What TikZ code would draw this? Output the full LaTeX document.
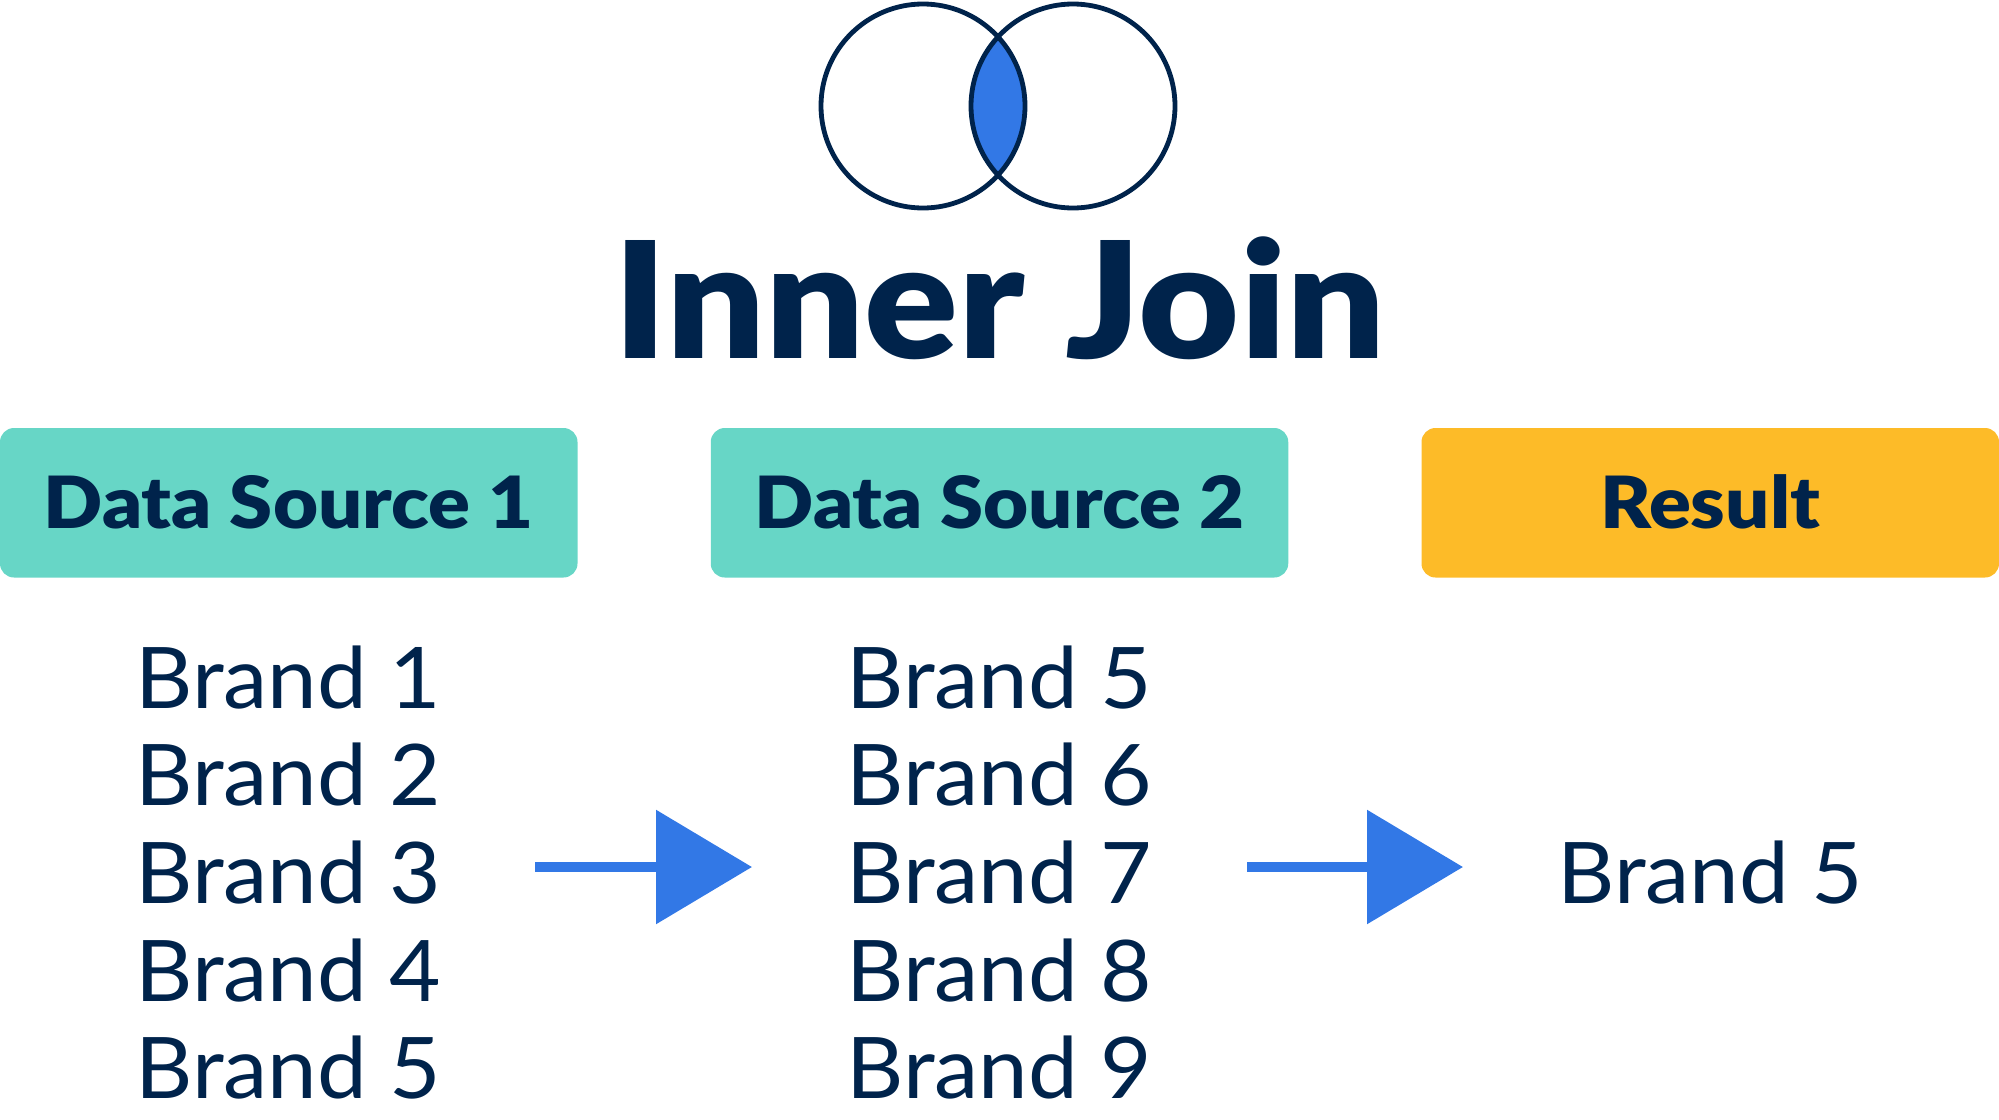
\documentclass[tikz,border=0pt]{standalone}
\usepackage{fontspec}
\setmainfont{Lato}[FakeStretch=1.045]
\newfontfamily\titlefont{Lato Black}[FakeStretch=1.076]
\newfontfamily\blackfont{Lato Black}[FakeStretch=1.08]
\usetikzlibrary{arrows.meta}
\definecolor{navy}{HTML}{00234B}
\definecolor{jblue}{HTML}{3278E6}
\definecolor{dsteal}{HTML}{67D6C6}
\definecolor{resyellow}{HTML}{FDBB28}
\begin{document}
\begin{tikzpicture}[x=0.5pt,y=-0.5pt,
  hdrbox/.style={rectangle, rounded corners=7pt, draw=none, minimum width=288.75pt, minimum height=74.75pt,
    inner sep=0pt, text=navy, font=\blackfont\fontsize{36}{40}\selectfont, text height=26pt, text depth=0pt},
  brandtxt/.style={anchor=base, inner sep=0pt, text=navy, font=\fontsize{42.5}{48}\selectfont},
  joinarrow/.style={draw=jblue, line width=5pt, -{Triangle[length=48pt,width=56pt]}},
  venn/.style={draw=navy, line width=2.4pt}]
\useasboundingbox (0,0) rectangle (1999,1120);
% Venn diagram
\coordinate (vl) at (923,106);
\coordinate (vr) at (1073,106);
\begin{scope}
  \clip (vl) circle[radius=51pt];
  \fill[jblue] (vr) circle[radius=51pt];
\end{scope}
\draw[venn] (vl) circle[radius=51pt];
\draw[venn] (vr) circle[radius=51pt];
% title
\node[anchor=base, inner sep=0pt, text=navy, font=\titlefont\fontsize{81}{90}\selectfont] (title) at (999.5,358) {Inner Join};
% header boxes
\node[hdrbox, fill=dsteal] (ds1) at (288.75,502.75) {Data Source 1};
\node[hdrbox, fill=dsteal] (ds2) at (999.5,502.75) {Data Source 2};
\node[hdrbox, fill=resyellow] (res) at (1710.25,502.75) {Result};
% column 1
\node[brandtxt] (a1) at (288.5,708) {Brand 1};
\node[brandtxt] (a2) at (288.5,805) {Brand 2};
\node[brandtxt] (a3) at (288.5,903) {Brand 3};
\node[brandtxt] (a4) at (288.5,1001) {Brand 4};
\node[brandtxt] (a5) at (288.5,1098) {Brand 5};
% column 2
\node[brandtxt] (b1) at (999.5,708) {Brand 5};
\node[brandtxt] (b2) at (999.5,805) {Brand 6};
\node[brandtxt] (b3) at (999.5,903) {Brand 7};
\node[brandtxt] (b4) at (999.5,1001) {Brand 8};
\node[brandtxt] (b5) at (999.5,1098) {Brand 9};
% result
\node[brandtxt] (r1) at (1710.5,903) {Brand 5};
% arrows
\coordinate (p1s) at (535,867);
\coordinate (p1e) at (752,867);
\coordinate (p2s) at (1247,867);
\coordinate (p2e) at (1463,867);
\draw[joinarrow] (p1s) -- (p1e);
\draw[joinarrow] (p2s) -- (p2e);
\end{tikzpicture}
\end{document}
